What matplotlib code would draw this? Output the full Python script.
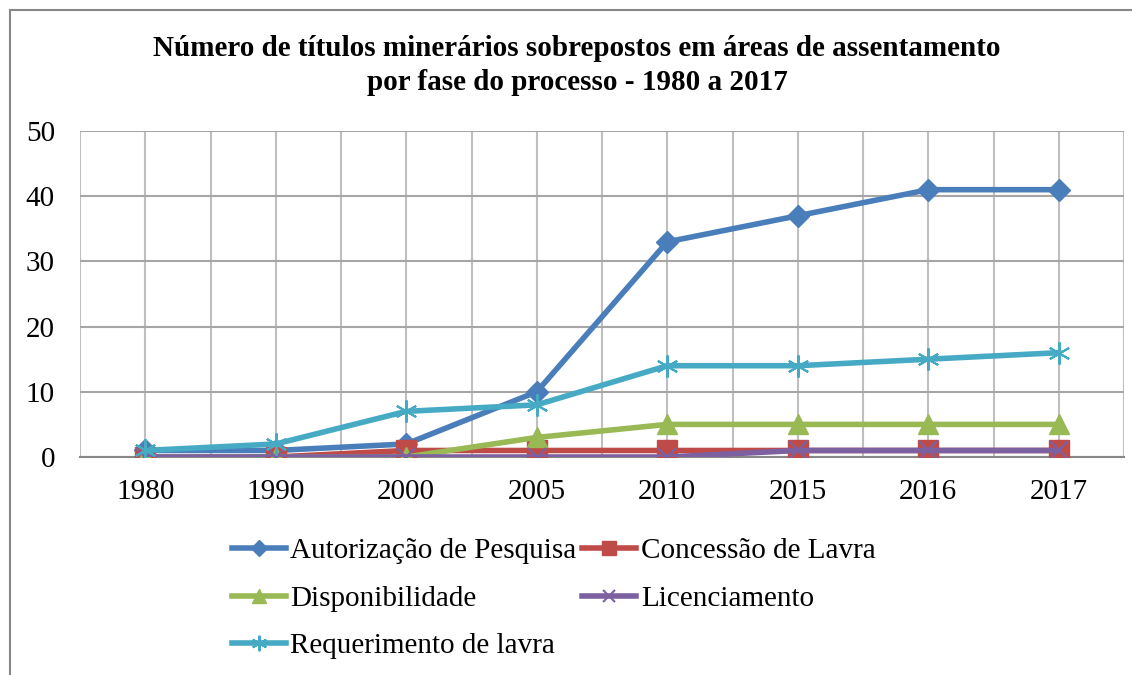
import numpy as np
import matplotlib.pyplot as plt
from matplotlib.patches import Rectangle

plt.rcParams['font.family'] = ['Liberation Serif', 'DejaVu Serif']

anos = ['1980', '1990', '2000', '2005', '2010', '2015', '2016', '2017']
autorizacao = [1, 1, 2, 10, 33, 37, 41, 41]
concessao = [0, 0, 1, 1, 1, 1, 1, 1]
disponibilidade = [0, 0, 0, 3, 5, 5, 5, 5]
licenciamento = [0, 0, 0, 0, 0, 1, 1, 1]
requerimento = [1, 2, 7, 8, 14, 14, 15, 16]

fig = plt.figure(figsize=(11.32, 6.75), dpi=100)
ax = fig.add_axes([80/1132, 1 - 457/675, 1044/1132, 326/675])

x = np.arange(len(anos))
lw = 4
h1, = ax.plot(x, autorizacao, color='#4A7EBB', lw=lw, marker='D', ms=11, label='Autorização de Pesquisa', zorder=3)
h2, = ax.plot(x, concessao, color='#BE4B48', lw=lw, marker='s', ms=14, label='Concessão de Lavra', zorder=3)
h3, = ax.plot(x, disponibilidade, color='#98B954', lw=lw, marker='^', ms=15, label='Disponibilidade', zorder=3)
h4, = ax.plot(x, licenciamento, color='#7D60A0', lw=lw, marker='x', ms=13, mew=1.5, label='Licenciamento', zorder=3)
h5, = ax.plot(x, requerimento, color='#46AAC5', lw=lw, marker=(6, 2, 0), ms=16, mew=1.5, label='Requerimento de lavra', zorder=3)

ax.set_xlim(-0.5, len(anos) - 0.5)
ax.set_ylim(0, 50)
ax.set_yticks(range(0, 51, 10))
ax.set_xticks(x)
ax.set_xticklabels(anos)
ax.set_xticks(np.arange(-0.5, len(anos), 1), minor=True)
ax.grid(True, which='both', axis='x', color='#BFBFBF', lw=1.5)
ax.grid(True, which='major', axis='y', color='#A6A6A6', lw=1.5)
ax.set_axisbelow(True)
ax.tick_params(axis='both', which='both', length=0, labelsize=21)
ax.tick_params(axis='y', pad=18)
ax.tick_params(axis='x', pad=16)
for s in ['top', 'right', 'left']:
    ax.spines[s].set_visible(False)
ax.spines['bottom'].set_color('#878787')
ax.spines['bottom'].set_linewidth(1.5)

fig.text(577/1132, 1 - 48/675, 'Número de títulos minerários sobrepostos em áreas de assentamento',
         ha='center', va='center', fontsize=21, fontweight='bold')
fig.text(577/1132, 1 - 82/675, 'por fase do processo - 1980 a 2017',
         ha='center', va='center', fontsize=21, fontweight='bold')

leg = fig.legend([h1, h3, h5, h2, h4],
                 [h.get_label() for h in [h1, h3, h5, h2, h4]],
                 loc='upper left', bbox_to_anchor=(232/1132, 1 - 538/675), ncol=2,
                 frameon=False, fontsize=21, handlelength=1.85, handletextpad=0.15,
                 columnspacing=0.2, labelspacing=0.72, borderaxespad=0, borderpad=0,
                 markerscale=0.7)

fig.patches.append(Rectangle((10/1132, -0.1), 1.2, 1 - 10/675 + 0.1, transform=fig.transFigure,
                             fill=False, edgecolor='#878787', lw=1.5))

fig.savefig('out.png', dpi=100)
